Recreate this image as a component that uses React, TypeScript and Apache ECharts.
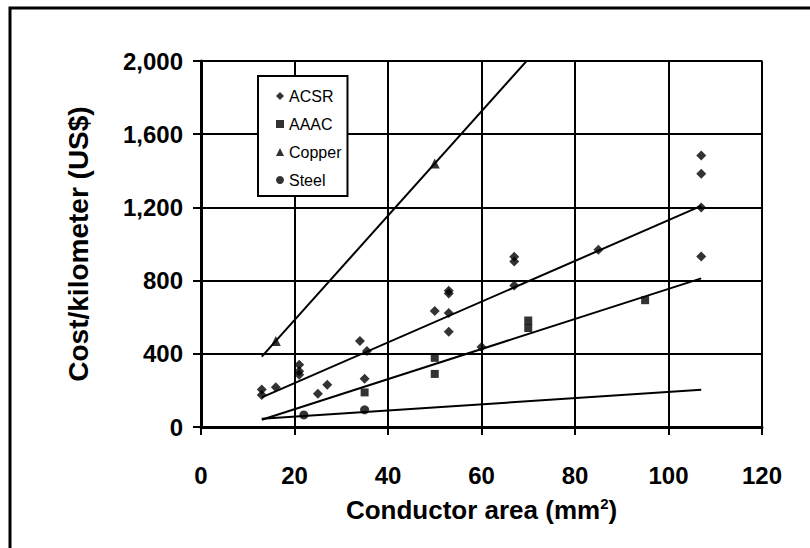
import React, { useEffect, useRef } from 'react';
import * as echarts from 'echarts';

// ---- data ----
const xTickLabels = ['0', '20', '40', '60', '80', '100', '120'];
const yTickLabels = ['0', '400', '800', '1,200', '1,600', '2,000'];

const acsrPoints: [number, number][] = [
  [13, 205], [13, 175], [16, 217], [21, 340], [21, 305], [21, 285],
  [25, 182], [27, 231], [34, 470], [35.5, 415], [35, 264], [50, 634],
  [53, 745], [53, 730], [53, 623], [53, 520], [60, 437], [67, 930],
  [67, 905], [67, 773], [85, 968], [107, 1483], [107, 1384], [107, 1200],
  [107, 932],
];
const aaacPoints: [number, number][] = [
  [35, 189], [50, 378], [50, 290], [70, 582], [70, 541], [95, 693],
];
const copperPoints: [number, number][] = [
  [16, 470], [50, 1440],
];
const steelPoints: [number, number][] = [
  [22, 66], [35, 94],
];

const acsrTrend: [number, number][] = [[13, 162], [107, 1208]];
const aaacTrend: [number, number][] = [[13, 40], [107, 812]];
const copperTrend: [number, number][] = [[13, 385], [107, 3065]];
const steelTrend: [number, number][] = [[13, 45], [107, 203]];

const seriesNames = ['ACSR', 'AAAC', 'Copper', 'Steel'];

const FONT = '"Liberation Sans", Arial, sans-serif';

export default function App() {
  const ref = useRef<HTMLDivElement>(null);

  useEffect(() => {
    if (!ref.current) return;
    const chart = echarts.init(ref.current, null, { renderer: 'svg' });

    const trend = (name: string, data: [number, number][]) => ({
      name,
      type: 'line',
      data,
      symbol: 'none',
      clip: true,
      lineStyle: { color: '#000', width: 2 },
      z: 3,
      silent: true,
    });
    const scatter = (name: string, data: [number, number][], symbol: string, size: number) => ({
      name,
      type: 'scatter',
      data,
      symbol,
      symbolSize: size,
      itemStyle: { color: '#000' },
      z: 4,
    });

    chart.setOption({
      animation: false,
      backgroundColor: '#fff',
      textStyle: { fontFamily: FONT },
      grid: {
        left: 201,
        top: 61,
        right: 48,
        bottom: 121,
        containLabel: false,
        outerBoundsMode: 'none',
        show: true,
        borderColor: '#8a8a8a',
        borderWidth: 2,
        backgroundColor: 'transparent',
      },
      graphic: [
        {
          type: 'rect',
          shape: { x: 10, y: 8, width: 900, height: 700 },
          style: { fill: 'none', stroke: '#000', lineWidth: 3 },
          silent: true,
          z: 0,
        },
      ],
      legend: {
        data: seriesNames,
        orient: 'vertical',
        left: 258,
        top: 76,
        itemWidth: 8,
        itemHeight: 8,
        itemGap: 12,
        itemTextGap: 5,
        padding: [12, 6, 8, 18],
        borderColor: '#000',
        borderWidth: 2,
        backgroundColor: '#fff',
        textStyle: { fontFamily: FONT, fontSize: 16, color: '#000' },
        z: 10,
      },
      xAxis: {
        type: 'value',
        min: 0,
        max: 120,
        interval: 20,
        name: 'Conductor area (mm{sup|2})',
        nameLocation: 'middle',
        nameGap: 69,
        nameTextStyle: {
          fontFamily: FONT,
          fontSize: 26,
          fontWeight: 'bold',
          color: '#000',
          rich: {
            sup: {
              fontFamily: FONT,
              fontSize: 15,
              fontWeight: 'bold',
              color: '#000',
              verticalAlign: 'top',
              padding: [0, 0, 12, 0],
            },
          },
        },
        axisLine: { show: true, lineStyle: { color: '#000', width: 3 } },
        axisTick: { show: true, inside: false, length: 8, lineStyle: { color: '#000', width: 2 } },
        axisLabel: {
          margin: 36,
          fontFamily: FONT,
          fontSize: 24,
          fontWeight: 'bold',
          color: '#000',
          formatter: (v: number) => xTickLabels[Math.round(v / 20)] ?? String(v),
        },
        splitLine: { show: true, lineStyle: { color: '#000', width: 2 } },
      },
      yAxis: {
        type: 'value',
        min: 0,
        max: 2000,
        interval: 400,
        name: 'Cost/kilometer (US$)',
        nameLocation: 'middle',
        nameGap: 109,
        nameTextStyle: {
          fontFamily: FONT,
          fontSize: 28,
          fontWeight: 'bold',
          color: '#000',
        },
        axisLine: { show: true, lineStyle: { color: '#000', width: 3 } },
        axisTick: { show: true, inside: false, length: 8, lineStyle: { color: '#000', width: 2 } },
        axisLabel: {
          margin: 18,
          fontFamily: FONT,
          fontSize: 24,
          fontWeight: 'bold',
          color: '#000',
          formatter: (v: number) => yTickLabels[Math.round(v / 400)] ?? String(v),
        },
        splitLine: { show: true, lineStyle: { color: '#000', width: 2 } },
      },
      series: [
        trend('ACSR trend', acsrTrend),
        trend('AAAC trend', aaacTrend),
        trend('Copper trend', copperTrend),
        trend('Steel trend', steelTrend),
        scatter('ACSR', acsrPoints, 'diamond', 10),
        scatter('AAAC', aaacPoints, 'rect', 8),
        scatter('Copper', copperPoints, 'triangle', 10),
        scatter('Steel', steelPoints, 'circle', 9),
      ],
    });

    return () => chart.dispose();
  }, []);

  return (
    <div
      ref={ref}
      style={{ position: 'absolute', left: 0, top: 0, width: 810, height: 548, background: '#fff' }}
    />
  );
}
